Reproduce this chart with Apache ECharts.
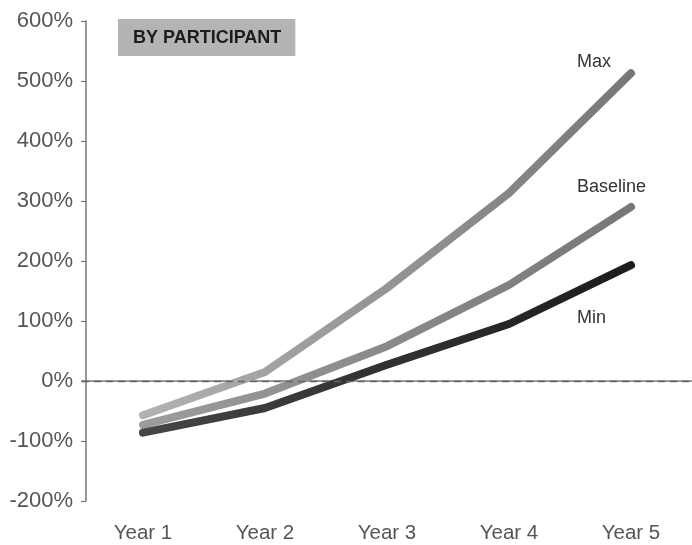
<!DOCTYPE html>
<html>
<head>
<meta charset="utf-8">
<script src="https://cdn.jsdelivr.net/npm/echarts@6/dist/echarts.min.js"></script>
<style>
  html, body { margin: 0; padding: 0; background: #fff; }
  #chart { width: 692px; height: 545px; }
</style>
</head>
<body>
<div id="chart"></div>
<script>
// Cumulative change by participant, in percent
var years = ['Year 1', 'Year 2', 'Year 3', 'Year 4', 'Year 5'];
var maxValues = [-57, 15, 155, 313, 513];
var baselineValues = [-73, -21, 58, 160, 290];
var minValues = [-86, -45, 27, 95, 193];
var yTicks = { min: -200, max: 600, step: 100 };

var chart = echarts.init(document.getElementById('chart'), null, { renderer: 'canvas' });

function grad(from, to) {
  return new echarts.graphic.LinearGradient(0, 0, 1, 0, [
    { offset: 0, color: from },
    { offset: 1, color: to }
  ]);
}

function lineSeries(name, values, from, to, labelOffset, extra) {
  var s = {
    name: name,
    type: 'line',
    data: values,
    showSymbol: false,
    symbol: 'none',
    smooth: false,
    lineStyle: { width: 8, color: grad(from, to), cap: 'round', join: 'round' },
    endLabel: {
      show: true,
      formatter: name,
      color: '#333',
      fontSize: 18,
      fontFamily: 'Liberation Sans, Arial, sans-serif',
      align: 'left',
      verticalAlign: 'middle',
      offset: labelOffset
    },
    emphasis: { disabled: true },
    silent: true,
    animation: false
  };
  if (extra) { for (var k in extra) s[k] = extra[k]; }
  return s;
}

var option = {
  backgroundColor: '#ffffff',
  animation: false,
  title: {
    text: 'BY PARTICIPANT',
    left: 118,
    top: 19,
    padding: [10, 14, 9, 15],
    backgroundColor: '#b4b4b4',
    textStyle: {
      fontSize: 18,
      fontWeight: 'bold',
      color: '#1c1c1c',
      fontFamily: 'Liberation Sans, Arial, sans-serif',
      lineHeight: 18
    }
  },
  grid: { left: 82, right: 0, top: 21, bottom: 44, containLabel: false },
  xAxis: {
    type: 'category',
    data: years,
    boundaryGap: true,
    axisLine: { lineStyle: { color: '#777', width: 1.5 } },
    axisTick: { alignWithLabel: true, length: 5, lineStyle: { color: '#777', width: 1.2 } },
    axisLabel: {
      margin: 22,
      fontSize: 20.5,
      color: '#555',
      fontFamily: 'Liberation Sans, Arial, sans-serif'
    }
  },
  yAxis: {
    type: 'value',
    min: yTicks.min,
    max: yTicks.max,
    interval: yTicks.step,
    offset: -4,
    axisLine: { show: true, lineStyle: { color: '#777', width: 1.5 } },
    axisTick: { show: true, length: 5, lineStyle: { color: '#777', width: 1.2 } },
    splitLine: { show: false },
    axisLabel: {
      margin: 13,
      fontSize: 22,
      color: '#555',
      fontFamily: 'Liberation Sans, Arial, sans-serif',
      formatter: '{value}%'
    }
  },
  series: [
    lineSeries('Max', maxValues, '#b2b2b2', '#777777', [-62, -11]),
    lineSeries('Baseline', baselineValues, '#9c9c9c', '#777777', [-62, -19.5]),
    lineSeries('Min', minValues, '#464646', '#1c1c1c', [-62, 52.5], {
      markLine: {
        silent: true,
        symbol: 'none',
        label: { show: false },
        lineStyle: { color: '#666', width: 1.3, type: [7, 5] },
        data: [{ yAxis: 0 }]
      }
    })
  ]
};

chart.setOption(option);
</script>
</body>
</html>
